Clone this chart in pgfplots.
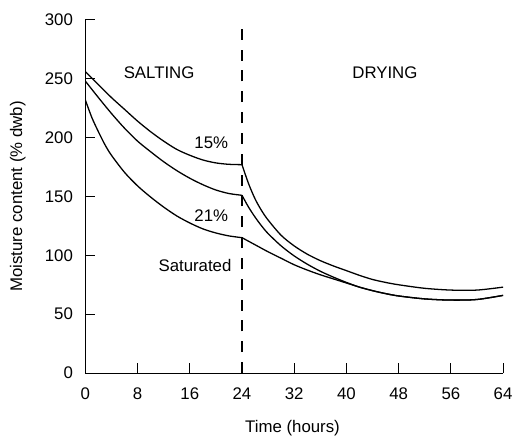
\documentclass[border=0pt]{standalone}
\usepackage{fontspec}
\setmainfont{Liberation Sans}
\usepackage{pgfplots}
\pgfplotsset{compat=1.18}

\begin{document}
\begin{tikzpicture}[font=\fontsize{17}{20}\selectfont]
\begin{axis}[
    name=ax,
    scale only axis,
    width=421bp, height=356bp,
    xmin=0, xmax=64, ymin=0, ymax=300,
    enlargelimits=false,
    axis lines=left,
    axis line style={-, line width=1.1pt},
    tick align=inside,
    major tick length=10bp,
    tick style={line width=0.9pt, black},
    xtick={0,8,...,64},
    ytick={0,50,...,300},
    /pgf/number format/assume math mode=true,
    tick label style={font=\fontsize{17}{20}\selectfont},
    label style={font=\fontsize{17}{20}\selectfont},
    yticklabel style={xshift=-9bp},
    xticklabel style={yshift=-11bp},
    xlabel={Time (hours)},
    ylabel={Moisture content (\% dwb)},
    xlabel style={at={(axis description cs:0.496,-0.157)}, anchor=center},
    ylabel style={at={(axis description cs:-0.1615,0.5)}, anchor=center},
]
% 15%
\addplot[black, line width=1.3pt, smooth] coordinates {(0,256) (2,245) (4,234) (6,224) (8,214) (10,205) (12,197) (14,190) (16,185) (18,181) (20,178.5) (22,177.3) (24,177)};
\addplot[black, line width=1.3pt, smooth] coordinates {(24,177) (25,161) (26,148) (27,138) (28,130) (30,117) (32,108) (34,101) (36,95.5) (38,91) (40,87) (42,83) (44,79.5) (46,77) (48,75) (52,72) (56,70.5) (60,70.5) (64,73)};
% 21%
\addplot[black, line width=1.3pt, smooth] coordinates {(0,248) (2,234) (4,220.5) (6,208) (8,197) (10,188) (12,179.5) (14,172) (16,165.5) (18,160) (20,155.5) (22,152.5) (24,151)};
\addplot[black, line width=1.3pt, smooth] coordinates {(24,151) (25,141) (26,132.5) (27,125) (28,118.5) (30,108) (32,99.5) (34,92.5) (36,86.5) (38,81.5) (40,77) (42,73) (44,70) (46,67.5) (48,65.5) (52,63) (56,62) (60,62.5) (64,66)};
% Saturated
\addplot[black, line width=1.3pt, smooth] coordinates {(0,232) (1,217) (2,205) (3,194) (4,185) (6,170.5) (8,159) (10,149.5) (12,141) (14,133.5) (16,127.5) (18,122.5) (20,119) (22,116.5) (24,115)};
\addplot[black, line width=1.3pt, smooth] coordinates {(24,115) (25,112) (26,109) (28,103) (30,97.5) (32,92) (34,87.5) (36,83.5) (38,80) (40,76.5) (42,73) (44,70) (46,67.5) (48,65.5) (52,63) (56,62) (60,62.5) (64,66)};
% phase boundary
\addplot[black, line width=1.6pt, dash pattern=on 11bp off 10bp] coordinates {(24,0) (24,300)};
\node at (axis cs:11.3,255) {SALTING};
\node at (axis cs:45.9,255) {DRYING};
\node at (axis cs:19.3,196) {15\%};
\node at (axis cs:19.3,134) {21\%};
\node at (axis cs:16.8,91) {Saturated};
\end{axis}
\pgfresetboundingbox
\path ([xshift=-86bp,yshift=-68bp]ax.south west) rectangle ([xshift=9bp,yshift=20bp]ax.north east);
\end{tikzpicture}
\end{document}
